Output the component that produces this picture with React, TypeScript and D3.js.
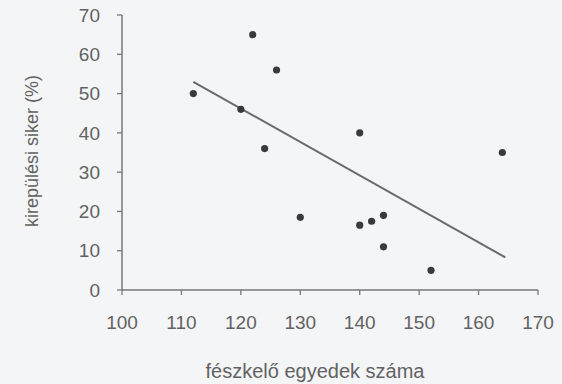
import React from "react";
import * as d3 from "d3";

const xValues = [112, 120, 122, 124, 126, 130, 140, 140, 142, 144, 144, 152, 164];
const yValues = [50, 46, 65, 36, 56, 18.5, 40, 16.5, 17.5, 19, 11, 5, 35];
const trendX = [112, 164.5];
const trendY = [53, 8.3];
const xTicks = [100, 110, 120, 130, 140, 150, 160, 170];
const yTicks = [0, 10, 20, 30, 40, 50, 60, 70];
const xTitle = "fészkelő egyedek száma";
const yTitle = "kirepülési siker (%)";

export default function App() {
  const W = 562, H = 384;
  const x = d3.scaleLinear().domain([100, 170]).range([122, 538]);
  const y = d3.scaleLinear().domain([0, 70]).range([290, 15]);
  const line = d3.line<[number, number]>().x(d => x(d[0])).y(d => y(d[1]));
  const trend: [number, number][] = trendX.map((v, i) => [v, trendY[i]]);
  const axisCol = "#777777";
  const textCol = "#626262";
  const font = "'Liberation Sans', Arial, sans-serif";
  return (
    <svg width={W} height={H} style={{ position: "absolute", left: 0, top: 0 }} fontFamily={font}>
      <rect x={0} y={0} width={W} height={H} fill="#f4f5f7" />
      {/* y axis */}
      <line x1={x(100)} x2={x(100)} y1={y(0)} y2={y(70)} stroke={axisCol} strokeWidth={1.5} />
      {yTicks.map(t => (
        <g key={"y" + t}>
          <line x1={x(100) - 5} x2={x(100)} y1={y(t)} y2={y(t)} stroke={axisCol} strokeWidth={1.3} />
          <text x={100} y={y(t)} dy="0.35em" textAnchor="end" fontSize={19} fill={textCol}>{t}</text>
        </g>
      ))}
      {/* x axis */}
      <line x1={x(100)} x2={x(170)} y1={y(0)} y2={y(0)} stroke={axisCol} strokeWidth={1.5} />
      {xTicks.map(t => (
        <g key={"x" + t}>
          <line x1={x(t)} x2={x(t)} y1={y(0)} y2={y(0) + 5} stroke={axisCol} strokeWidth={1.3} />
          <text x={x(t)} y={329} textAnchor="middle" fontSize={19} fill={textCol}>{t}</text>
        </g>
      ))}
      <text x={315} y={378} textAnchor="middle" fontSize={20} fill={textCol}>{xTitle}</text>
      <text transform={`translate(38,151) rotate(-90)`} textAnchor="middle" fontSize={18} fill={textCol}>{yTitle}</text>
      <path d={line(trend) || ""} fill="none" stroke="#6a6a6a" strokeWidth={2} />
      {xValues.map((v, i) => (
        <circle key={i} cx={x(v)} cy={y(yValues[i])} r={3.6} fill="#3a3a3a" />
      ))}
    </svg>
  );
}
